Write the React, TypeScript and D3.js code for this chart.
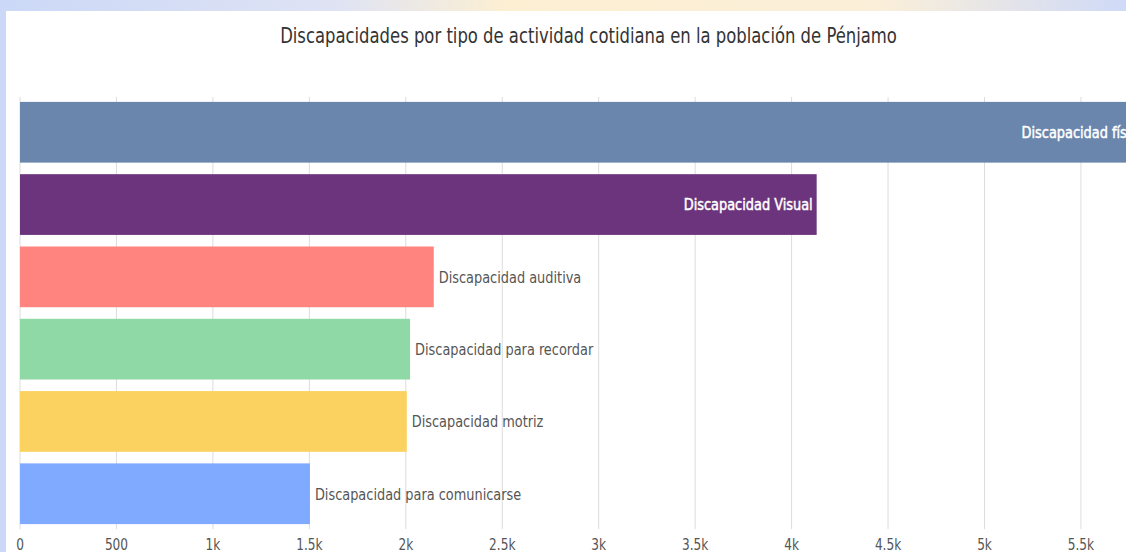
import { useEffect, useRef } from 'react';
import * as d3 from 'd3';

const categories = [
  'Discapacidad física',
  'Discapacidad Visual',
  'Discapacidad auditiva',
  'Discapacidad para recordar',
  'Discapacidad motriz',
  'Discapacidad para comunicarse',
];
const values = [5855, 4130, 2145, 2022, 2005, 1503];
const barColors = ['#6a86ad', '#6c347c', '#ff8480', '#8fd9a6', '#fbd160', '#80aaff'];
const tickValues = [0, 500, 1000, 1500, 2000, 2500, 3000, 3500, 4000, 4500, 5000, 5500];
const tickLabels = ['0', '500', '1k', '1.5k', '2k', '2.5k', '3k', '3.5k', '4k', '4.5k', '5k', '5.5k'];
const title = 'Discapacidades por tipo de actividad cotidiana en la población de Pénjamo';

const W = 1126;
const H = 552;
const FONT = '"Liberation Sans Narrow", "DejaVu Sans Condensed", sans-serif';
const SX = 0.87; // squeeze the narrow font a bit more to match the condensed original

export default function App() {
  const svgRef = useRef<SVGSVGElement>(null);

  useEffect(() => {
    if (!svgRef.current) return;
    const svg = d3.select(svgRef.current);
    svg.selectAll('*').remove();

    // blurred page background behind the card
    const defs = svg.append('defs');
    const grad = defs.append('linearGradient').attr('id', 'bg').attr('x1', 0).attr('x2', 1).attr('y1', 0).attr('y2', 0);
    grad.append('stop').attr('offset', '0%').attr('stop-color', '#cbd8f7');
    grad.append('stop').attr('offset', '30%').attr('stop-color', '#dfe3f4');
    grad.append('stop').attr('offset', '45%').attr('stop-color', '#fcefd2');
    grad.append('stop').attr('offset', '78%').attr('stop-color', '#fbefd9');
    grad.append('stop').attr('offset', '100%').attr('stop-color', '#cfdaf8');
    svg.append('rect').attr('width', W).attr('height', H).attr('fill', 'url(#bg)');

    // white card
    svg.append('rect').attr('x', 6).attr('y', 11).attr('width', W).attr('height', H).attr('fill', '#fff');

    const squeeze = (tx: number, ty: number) => `translate(${tx},${ty}) scale(${SX},1)`;

    svg.append('text')
      .attr('transform', squeeze(588.5, 43))
      .attr('text-anchor', 'middle')
      .attr('font-family', FONT)
      .attr('font-size', 21)
      .attr('fill', '#333')
      .text(title);

    const x = d3.scaleLinear().domain([0, 6000]).range([20, 20 + 12 * 96.45]);
    const y = d3.scaleBand<string>().domain(categories).range([99, 527]).paddingInner(0.16).paddingOuter(0.04);

    // grid
    svg.append('g')
      .selectAll('line')
      .data(tickValues)
      .join('line')
      .attr('x1', d => x(d))
      .attr('x2', d => x(d))
      .attr('y1', 97)
      .attr('y2', 529)
      .attr('stroke', '#dcdcdc')
      .attr('stroke-width', 1);

    svg.append('g')
      .selectAll('text')
      .data(tickValues)
      .join('text')
      .attr('transform', d => squeeze(x(d), 550))
      .attr('text-anchor', 'middle')
      .attr('font-family', FONT)
      .attr('font-size', 15.5)
      .attr('fill', '#555')
      .text((d, i) => tickLabels[i]);

    const rows = categories.map((c, i) => ({ c, v: values[i], color: barColors[i] }));

    svg.append('g')
      .selectAll('rect')
      .data(rows)
      .join('rect')
      .attr('x', x(0))
      .attr('y', d => y(d.c)!)
      .attr('width', d => x(d.v) - x(0))
      .attr('height', y.bandwidth())
      .attr('fill', d => d.color);

    // labels: inside the end when the bar is long, outside otherwise
    const inside = (v: number) => v > 3000;
    svg.append('g')
      .selectAll('text')
      .data(rows)
      .join('text')
      .attr('transform', d => squeeze(inside(d.v) ? x(d.v) - 4 : x(d.v) + 5, y(d.c)! + y.bandwidth() / 2))
      .attr('dy', '0.35em')
      .attr('text-anchor', d => (inside(d.v) ? 'end' : 'start'))
      .attr('font-family', FONT)
      .attr('font-size', 16.5)
      .attr('fill', d => (inside(d.v) ? '#fff' : '#555'))
      .attr('stroke', d => (inside(d.v) ? '#fff' : 'none'))
      .attr('stroke-width', 0.5)
      .text(d => d.c);
  }, []);

  return (
    <div style={{ position: 'fixed', left: 0, top: 0, width: W, height: H, overflow: 'hidden' }}>
      <svg ref={svgRef} width={W} height={H} viewBox={`0 0 ${W} ${H}`} style={{ display: 'block' }}></svg>
    </div>
  );
}
